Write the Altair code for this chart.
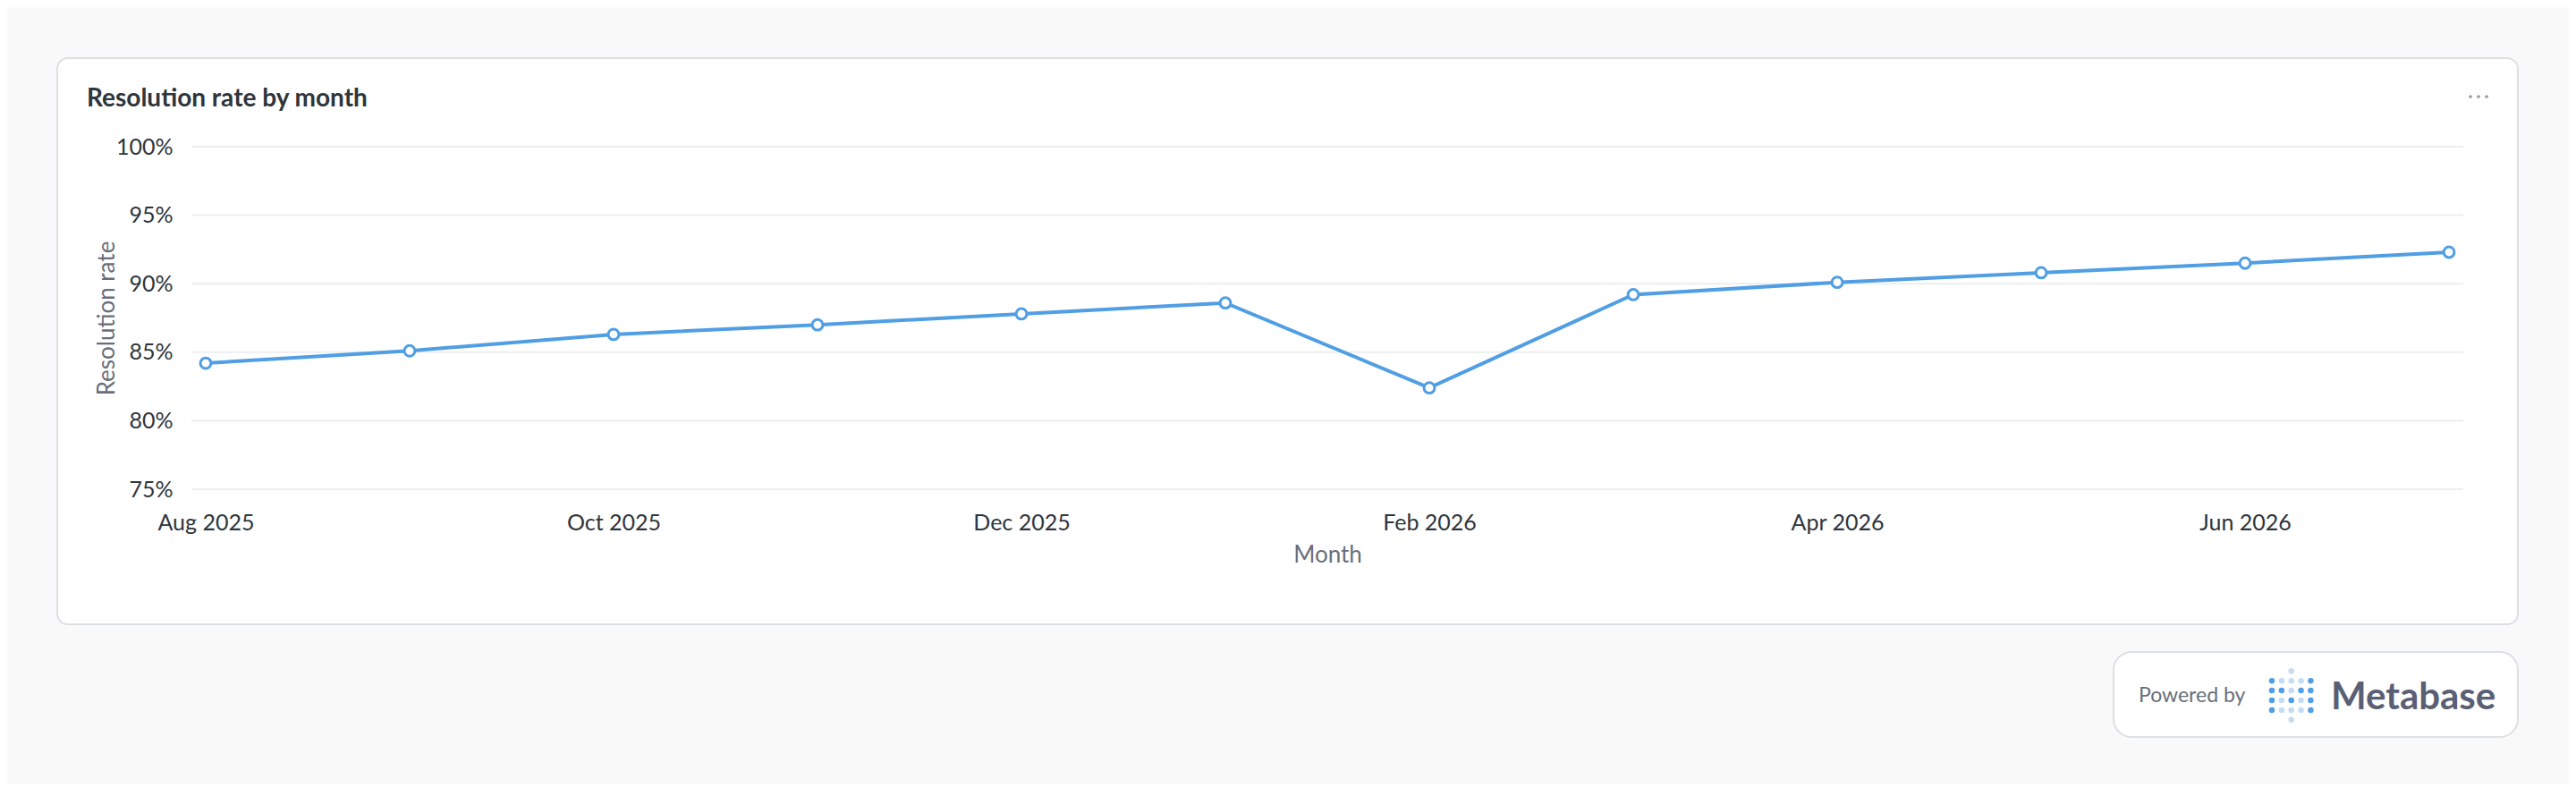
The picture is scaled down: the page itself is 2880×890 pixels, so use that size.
import altair as alt
import pandas as pd

# ---- chart data ----
months = ["Aug 2025", "Sep 2025", "Oct 2025", "Nov 2025", "Dec 2025", "Jan 2026",
          "Feb 2026", "Mar 2026", "Apr 2026", "May 2026", "Jun 2026", "Jul 2026"]
rates = [84.2, 85.1, 86.3, 87.0, 87.8, 88.6, 82.4, 89.2, 90.1, 90.8, 91.5, 92.3]
y_ticks = [75, 80, 85, 90, 95, 100]
x_tick_labels = ["Aug 2025", "Oct 2025", "Dec 2025", "Feb 2026", "Apr 2026", "Jun 2026"]

# ---- decoration data (Metabase logo pattern: 1 = dark dot, 0 = light dot) ----
logo_rows = ["..0..", "10001", "11011", "10101", "10001", "..0.."]

BLUE = "#509EE3"
LIGHT_BLUE = "#C5DCF3"
TEXT_DARK = "#2E353B"
TEXT_MED = "#696E7B"
BORDER = "#DDE0E3"
W, H = 2540, 383

df = pd.DataFrame({"Month": months, "Resolution rate": rates})
grid_df = pd.DataFrame({"Resolution rate": y_ticks})
one = pd.DataFrame({"k": [0]})

y_scale = alt.Scale(domain=[75, 100], nice=False, zero=False)

x_enc = alt.X(
    "Month:O", sort=months, title="Month",
    scale=alt.Scale(type="point", padding=0.07),
    axis=alt.Axis(values=x_tick_labels, labelAngle=0, ticks=False, tickSize=0, domain=False,
                  grid=False, zindex=1, labelFont="Lato", labelFontSize=25, labelColor=TEXT_DARK,
                  labelBaseline="alphabetic", labelPadding=45,
                  titleFont="Lato", titleFontSize=26, titleFontWeight="normal",
                  titleColor=TEXT_MED, titleX=W / 2, titleY=81, titleBaseline="alphabetic",
                  titleAlign="center"),
)
y_enc = alt.Y(
    "Resolution rate:Q", title="Resolution rate", scale=y_scale,
    axis=alt.Axis(values=y_ticks, labelExpr="datum.value + '%'", ticks=False, tickSize=0,
                  domain=False, grid=False, zindex=1,
                  labelFont="Lato", labelFontSize=25, labelColor=TEXT_DARK, labelPadding=21,
                  titleFont="Lato", titleFontSize=26, titleFontWeight="normal",
                  titleColor=TEXT_MED, titleAngle=270, titleX=-95, titleY=H / 2,
                  titleAlign="center", titleBaseline="middle"),
)

# gridlines drawn as a layer so they sit on the white card but behind the line
grid = alt.Chart(grid_df).mark_rule(color="#EDEEF0", strokeWidth=2).encode(
    y=alt.Y("Resolution rate:Q", scale=y_scale), x=alt.value(0), x2=alt.value(W))

base = alt.Chart(df).encode(x=x_enc, y=y_enc)
line = base.mark_line(color=BLUE, strokeWidth=4)
points = base.mark_point(shape="circle", filled=True, fill="white", stroke=BLUE,
                         strokeWidth=3, size=140, opacity=1)

card = alt.Chart(one).mark_rect(fill="white", stroke=BORDER, strokeWidth=2, cornerRadius=12).encode(
    x=alt.value(-150), x2=alt.value(2601), y=alt.value(-99), y2=alt.value(534))

card_title = alt.Chart(one).mark_text(
    text="Resolution rate by month", align="left", baseline="alphabetic",
    font="Lato", fontSize=28, fontWeight="bold", color=TEXT_DARK).encode(
    x=alt.value(-117), y=alt.value(-45))

menu_dots = alt.Chart(pd.DataFrame({"i": [0, 1, 2]})).transform_calculate(
    px="2548 + 9 * datum.i", py="-56").mark_circle(color="#949AAB", size=14, opacity=1).encode(
    x=alt.X("px:Q", scale=None, axis=None), y=alt.Y("py:Q", scale=None, axis=None))

badge = alt.Chart(one).mark_rect(fill="white", stroke=BORDER, strokeWidth=2, cornerRadius=20).encode(
    x=alt.value(2149), x2=alt.value(2601), y=alt.value(565), y2=alt.value(660))

powered = alt.Chart(one).mark_text(
    text="Powered by", align="left", baseline="alphabetic", font="Lato", fontSize=23,
    color=TEXT_MED).encode(x=alt.value(2177), y=alt.value(621))

metabase = alt.Chart(one).mark_text(
    text="Metabase", align="left", baseline="alphabetic", font="Lato", fontSize=42,
    fontWeight="bold", color="#596075").encode(x=alt.value(2392), y=alt.value(629))

logo_cells = []
for r, row in enumerate(logo_rows):
    for c, ch in enumerate(row):
        if ch != ".":
            logo_cells.append({"r": r, "c": c, "dark": ch == "1"})
logo = alt.Chart(pd.DataFrame(logo_cells)).transform_calculate(
    px="2326 + 10.85 * datum.c", py="586.3 + 10.9 * datum.r").mark_circle(size=42, opacity=1).encode(
    x=alt.X("px:Q", scale=None, axis=None), y=alt.Y("py:Q", scale=None, axis=None),
    color=alt.condition("datum.dark", alt.value(BLUE), alt.value(LIGHT_BLUE)))

chart = alt.layer(card, badge, card_title, menu_dots, powered, metabase, logo, grid, line, points).properties(
    width=W, height=H,
    padding={"left": 206, "top": 156, "right": 118, "bottom": 330},
    autosize=alt.AutoSizeParams(type="none"),
    background="#F9F9FA",
).configure_view(stroke=None).configure(font="Lato")

chart.save("out.html", embed_options={"renderer": "svg", "actions": False})
